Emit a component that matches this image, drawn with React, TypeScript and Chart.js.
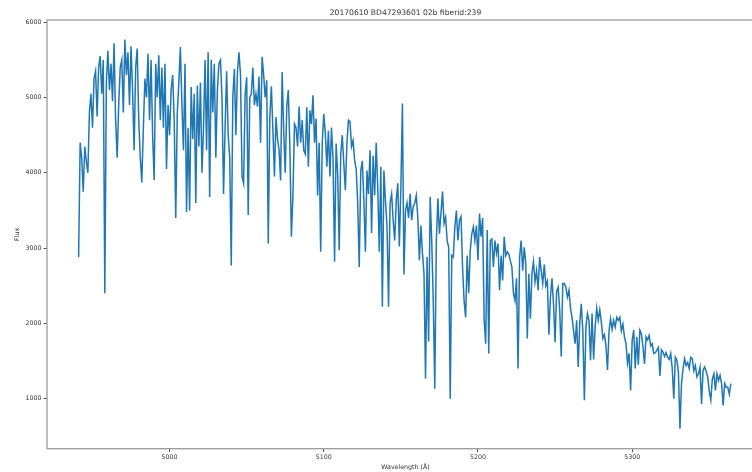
import { useEffect, useRef } from "react";
import { Chart, registerables } from "chart.js";

Chart.register(...registerables);

const TITLE = "20170610 BD47293601 02b fiberid:239";
const X_LABEL = "Wavelength (Å)";
const Y_LABEL = "Flux";

const X_TICKS = [5000, 5100, 5200, 5300];
const Y_TICKS = [1000, 2000, 3000, 4000, 5000, 6000];

// Spectrum sampled on a 1 Å grid starting at 4941 Å.
const LAMBDA_START = 4941;
const LAMBDA_STEP = 1;

// 4941 – 5012 Å
const FLUX_A = [
  2880, 4400, 4200, 3750, 4350, 4150, 4000, 4800, 5050, 4600,
  5250, 5350, 4750, 5400, 5550, 5050, 5500, 2400, 5200, 5620,
  5100, 5450, 4950, 5720, 4700, 4200, 4900, 5400, 5500, 4800,
  5770, 5300, 5600, 4900, 5680, 5100, 4300, 5400, 5650, 4700,
  4200, 3870, 4600, 5250, 5000, 5580, 4700, 5500, 4500, 3900,
  5450, 5000, 5560, 4700, 5400, 4600, 5450, 4050, 4900, 4500,
  5100, 5300, 4700, 3400, 4800, 5200, 5670, 4900, 4300, 5450,
  3480, 4600,
];

// 5013 – 5083 Å
const FLUX_B = [
  3500, 5140, 4450, 5050, 3600, 5160, 4350, 5200, 4000, 4600,
  5500, 4300, 5600, 3680, 5500, 4800, 5450, 4200, 5100, 5450,
  5500, 5000, 3720, 4600, 5350, 4500, 4200, 2770, 5000, 5380,
  4500, 5340, 5600, 5300, 3950, 3860, 5050, 5270, 3440, 5000,
  5050, 5400, 4900, 5050, 4880, 5280, 4400, 5540, 5300, 5000,
  5230, 3060, 4740, 5150, 4570, 3950, 4740, 4450, 4300, 3900,
  5340, 4560, 4000, 4880, 5100, 4350, 3150, 3700, 4650, 4600,
  4350,
];

// 5084 – 5154 Å
const FLUX_C = [
  4880, 4400, 4700, 4300, 4250, 4870, 4080, 4830, 4650, 5030,
  4400, 4720, 3700, 4400, 2950, 4390, 4780, 4530, 4080, 4560,
  3950, 4600, 4200, 2820, 4390, 3990, 2970, 4250, 4500, 4120,
  3770, 4390, 4700, 4680, 4350, 4430, 4170, 4050, 3600, 2750,
  4030, 4160, 3640, 2950, 4030, 3720, 4300, 3200, 4230, 3700,
  4400, 3800, 2950, 4080, 2220, 4030, 3630, 3300, 2220, 3600,
  3720, 3370, 3100, 3630, 3860, 3020, 3800, 4920, 2650, 3500,
  3600,
];

// 5155 – 5226 Å
const FLUX_D = [
  3400, 3720, 3370, 3550, 3600, 3700, 3400, 2840, 3300, 2930,
  2660, 1265, 2880, 1760, 3680, 3100, 2300, 1130, 3100, 3660,
  3190, 3460, 3750, 3330, 3410, 3100, 3010, 1000, 2900, 2880,
  3280, 3500, 3100, 3370, 3420, 2750, 2300, 2080, 2900, 2400,
  2970, 3190, 3280, 3100, 3300, 2840, 3460, 3150, 3400, 2050,
  1730, 3240, 1600, 3100, 3120, 2750, 3100, 2930, 3060, 2440,
  2900, 2570, 3150, 2900, 2950, 2920, 2830, 2750, 2400, 2300,
  2600, 1400,
];

// 5227 – 5298 Å
const FLUX_E = [
  2880, 3100, 2700, 3010, 2800, 1800, 2660, 2060, 2660, 2820,
  2550, 2700, 2440, 2880, 2700, 2530, 2780, 2500, 2560, 1850,
  2350, 2600, 2260, 1750, 2420, 2480, 2180, 1560, 2530, 2530,
  2480, 2350, 2440, 2200, 2080, 1900, 1730, 2040, 1420, 2000,
  2260, 1900, 980, 1950, 2130, 2040, 1510, 2130, 1520, 1950,
  2200, 2040, 2180, 2020, 1800, 1850, 1700, 1380, 1900, 2060,
  1920, 2040, 1950, 2080, 2040, 2080, 1900, 1990, 1820, 1730,
  1470, 1600,
];

// 5299 – 5364 Å
const FLUX_F = [
  1110, 1770, 1910, 1400, 1820, 1450, 1910, 1860, 1690, 1460,
  1820, 1780, 1840, 1700, 1730, 1600, 1610, 1640, 1680, 1300,
  1650, 1620, 1560, 1610, 1550, 1520, 1600, 1400, 1000, 1550,
  1510, 1350, 600, 1200, 1400, 1530, 1440, 1480, 1400, 1550,
  1530, 1370, 1440, 1290, 1330, 1420, 930, 1380, 1420, 1360,
  1290, 1100, 980, 1260, 1330, 1110, 1330, 1240, 1310, 1200,
  910, 1200, 1150, 1150, 1060, 1200,
];

const FLUX = [...FLUX_A, ...FLUX_B, ...FLUX_C, ...FLUX_D, ...FLUX_E, ...FLUX_F];
const WAVELENGTHS = FLUX.map((_, i) => LAMBDA_START + i * LAMBDA_STEP);

const X_MIN = 4920.5;
const X_MAX = 5385.5;
const Y_MIN = 335;
const Y_MAX = 6030;

const FONT = '"DejaVu Sans", "Liberation Sans", sans-serif';
const LINE_COLOR = "#1f77b4";
const SPINE_COLOR = "#9a9a9a";
const TEXT_COLOR = "#333333";

const frameAndLabels = {
  id: "frameAndLabels",
  afterDraw(chart: any) {
    const { ctx, chartArea: a } = chart;
    ctx.save();
    ctx.strokeStyle = SPINE_COLOR;
    ctx.lineWidth = 1.3;
    ctx.strokeRect(a.left, a.top, a.right - a.left, a.bottom - a.top);

    const cx = (a.left + a.right) / 2;
    ctx.fillStyle = TEXT_COLOR;
    ctx.textAlign = "center";
    ctx.textBaseline = "middle";
    ctx.font = `7.6px ${FONT}`;
    ctx.fillText(TITLE, cx, a.top - 6.5);

    ctx.font = `6.3px ${FONT}`;
    ctx.fillText(X_LABEL, cx, a.bottom + 18.6);

    ctx.translate(17, (a.top + a.bottom) / 2);
    ctx.rotate(-Math.PI / 2);
    ctx.fillText(Y_LABEL, 0, 0);
    ctx.restore();
  },
};

export default function App() {
  const canvasRef = useRef<HTMLCanvasElement | null>(null);

  useEffect(() => {
    const canvas = canvasRef.current;
    if (!canvas) return;
    const chart = new Chart(canvas, {
      type: "line",
      data: {
        datasets: [
          {
            data: WAVELENGTHS.map((x, i) => ({ x, y: FLUX[i] })),
            borderColor: LINE_COLOR,
            backgroundColor: LINE_COLOR,
            borderWidth: 1.5,
            pointRadius: 0,
            tension: 0,
            fill: false,
          },
        ],
      },
      options: {
        responsive: false,
        animation: false,
        devicePixelRatio: 1,
        layout: { padding: { top: 20, right: 6, left: 0, bottom: 0 } },
        plugins: {
          legend: { display: false },
          title: { display: false },
          tooltip: { enabled: false },
        },
        scales: {
          x: {
            type: "linear",
            min: X_MIN,
            max: X_MAX,
            afterBuildTicks: (s: any) => {
              s.ticks = X_TICKS.map((value) => ({ value }));
            },
            afterFit: (s: any) => {
              s.height = 23.3;
            },
            grid: {
              drawOnChartArea: false,
              drawTicks: true,
              tickLength: 3.5,
              tickColor: "#555555",
              tickWidth: 1,
            },
            border: { display: false },
            ticks: {
              font: { family: FONT, size: 6.3 },
              color: TEXT_COLOR,
              padding: 1,
              maxRotation: 0,
              autoSkip: false,
              callback: (v: any) => String(v),
            },
          },
          y: {
            type: "linear",
            min: Y_MIN,
            max: Y_MAX,
            afterBuildTicks: (s: any) => {
              s.ticks = Y_TICKS.map((value) => ({ value }));
            },
            afterFit: (s: any) => {
              s.width = 47;
            },
            grid: {
              drawOnChartArea: false,
              drawTicks: true,
              tickLength: 3.5,
              tickColor: "#555555",
              tickWidth: 1,
            },
            border: { display: false },
            ticks: {
              font: { family: FONT, size: 6.3 },
              color: TEXT_COLOR,
              padding: 2,
              autoSkip: false,
              callback: (v: any) => String(v),
            },
          },
        },
      },
      plugins: [frameAndLabels],
    });
    return () => chart.destroy();
  }, []);

  return (
    <div
      style={{
        position: "fixed",
        left: 0,
        top: 0,
        width: 752,
        height: 472,
        overflow: "hidden",
        background: "#ffffff",
      }}
    >
      <canvas ref={canvasRef} width={770} height={472} style={{ display: "block" }} />
    </div>
  );
}
